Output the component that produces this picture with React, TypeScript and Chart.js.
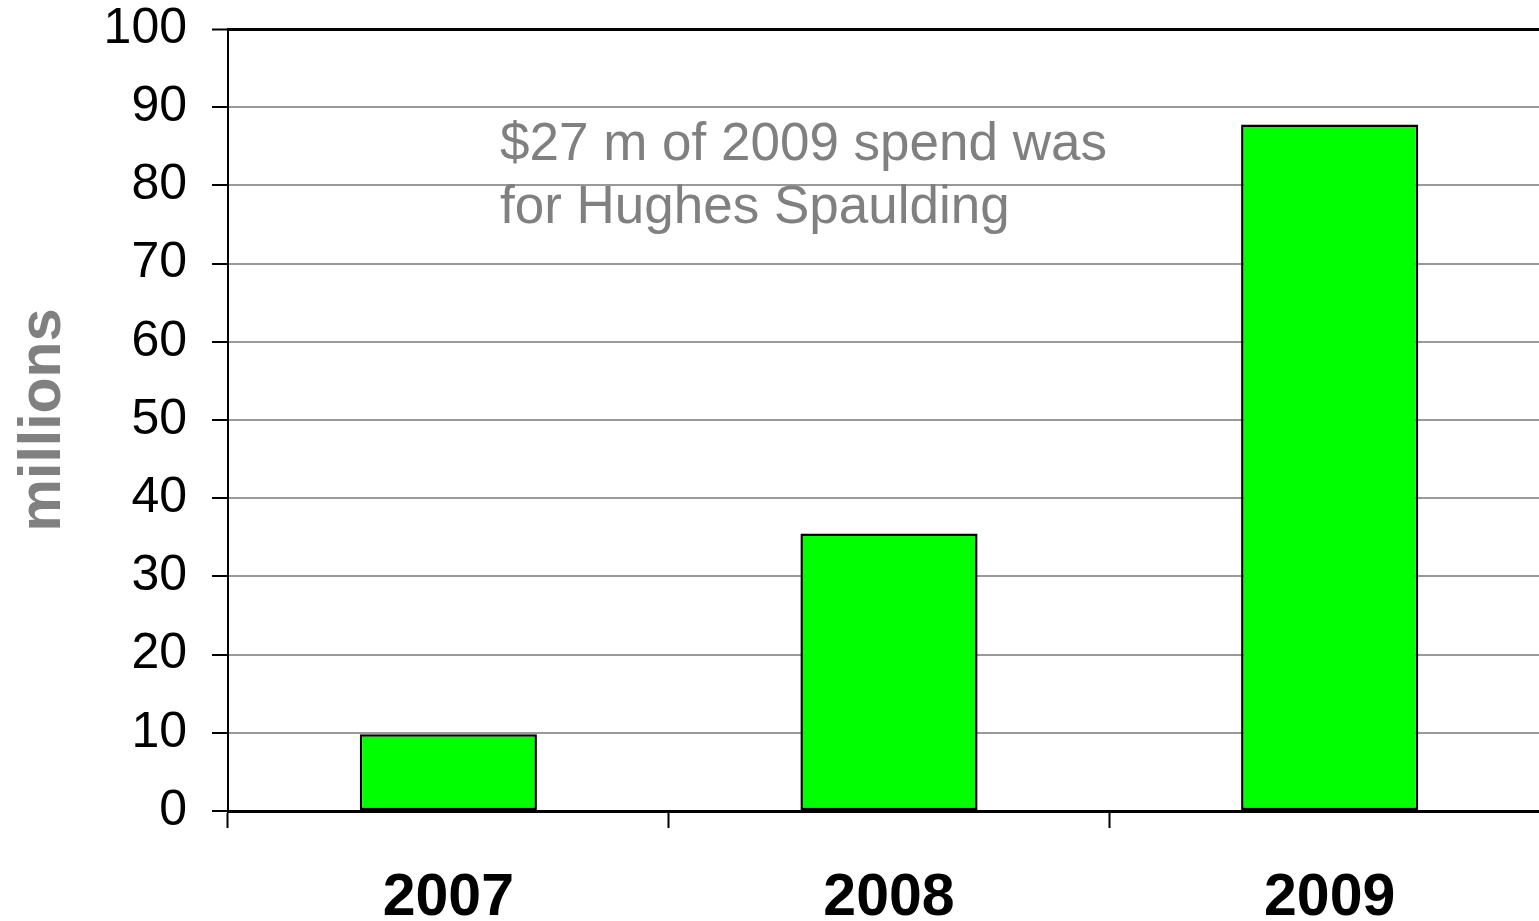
import React, { useEffect, useRef } from "react";
import { Chart, registerables } from "chart.js";

Chart.register(...registerables);

const categories = ["2007", "2008", "2009"];
const spendValues = [9.8, 35.5, 87.8];
const yTicks = [0, 10, 20, 30, 40, 50, 60, 70, 80, 90, 100];
const axisTitle = "millions";
const noteLines = ["$27 m of 2009 spend was", "for Hughes Spaulding"];

const FONT = "'Liberation Sans', Arial, Helvetica, sans-serif";

const notePlugin = {
  id: "notePlugin",
  afterDraw(chart: any) {
    const ctx = chart.ctx;
    const area = chart.chartArea;
    ctx.save();
    ctx.font = `53px ${FONT}`;
    ctx.fillStyle = "#808080";
    ctx.textAlign = "left";
    ctx.textBaseline = "alphabetic";
    noteLines.forEach((line, i) => {
      ctx.fillText(line, area.left + 272, area.top + 131 + i * 63);
    });
    ctx.restore();
  },
};

export default function App() {
  const ref = useRef<HTMLCanvasElement | null>(null);

  useEffect(() => {
    document.body.style.margin = "0";
    const canvas = ref.current!;
    const chart = new Chart(canvas, {
      type: "bar",
      data: {
        labels: categories,
        datasets: [
          {
            data: spendValues,
            backgroundColor: "#00ff00",
            borderColor: "#000000",
            borderWidth: 2.5,
            borderSkipped: false,
            barPercentage: 0.402,
            categoryPercentage: 1,
          },
        ],
      },
      plugins: [notePlugin],
      options: {
        animation: false,
        responsive: false,
        maintainAspectRatio: false,
        layout: { padding: { top: 0, right: 0, bottom: 0, left: 0 } },
        plugins: {
          legend: { display: false },
          tooltip: { enabled: false },
          title: { display: false },
        },
        scales: {
          x: {
            offset: true,
            grid: {
              offset: true,
              drawOnChartArea: false,
              drawTicks: true,
              tickLength: 17,
              tickColor: "#000000",
              tickWidth: 2,
            },
            border: { display: true, color: "#000000", width: 3 },
            ticks: {
              color: "#000000",
              font: { family: FONT, size: 59, weight: "bold" },
              padding: 35,
              maxRotation: 0,
              autoSkip: false,
            },
            afterFit(scale: any) {
              scale.height = 110;
              scale.paddingLeft = 0;
              scale.paddingRight = 0;
            },
          },
          y: {
            min: 0,
            max: 100,
            afterBuildTicks(scale: any) {
              scale.ticks = yTicks.map((v) => ({ value: v }));
            },
            grid: {
              color: (ctx: any) =>
                ctx.tick && (ctx.tick.value === 100 || ctx.tick.value === 0)
                  ? "#000000"
                  : "#999999",
              lineWidth: (ctx: any) =>
                ctx.tick && ctx.tick.value === 100 ? 3 : 2,
              drawTicks: true,
              tickLength: 16,
              tickColor: "#000000",
              tickWidth: 2,
            },
            border: { display: true, color: "#000000", width: 2 },
            ticks: {
              color: "#000000",
              font: { family: FONT, size: 50 },
              padding: 25,
              stepSize: 10,
            },
            title: {
              display: true,
              text: axisTitle,
              color: "#808080",
              font: { family: FONT, size: 59, weight: "bold" },
              padding: { top: 8, bottom: 0 },
            },
            afterFit(scale: any) {
              scale.width = 228;
              scale.paddingTop = 29;
              scale.paddingBottom = 0;
            },
          },
        },
      },
    });
    return () => chart.destroy();
  }, []);

  return (
    <div style={{ position: "absolute", left: 0, top: 0, width: 1539, height: 921, overflow: "hidden", background: "#ffffff" }}>
      <canvas ref={ref} width={1550} height={921} style={{ display: "block", width: 1550, height: 921 }} />
    </div>
  );
}
